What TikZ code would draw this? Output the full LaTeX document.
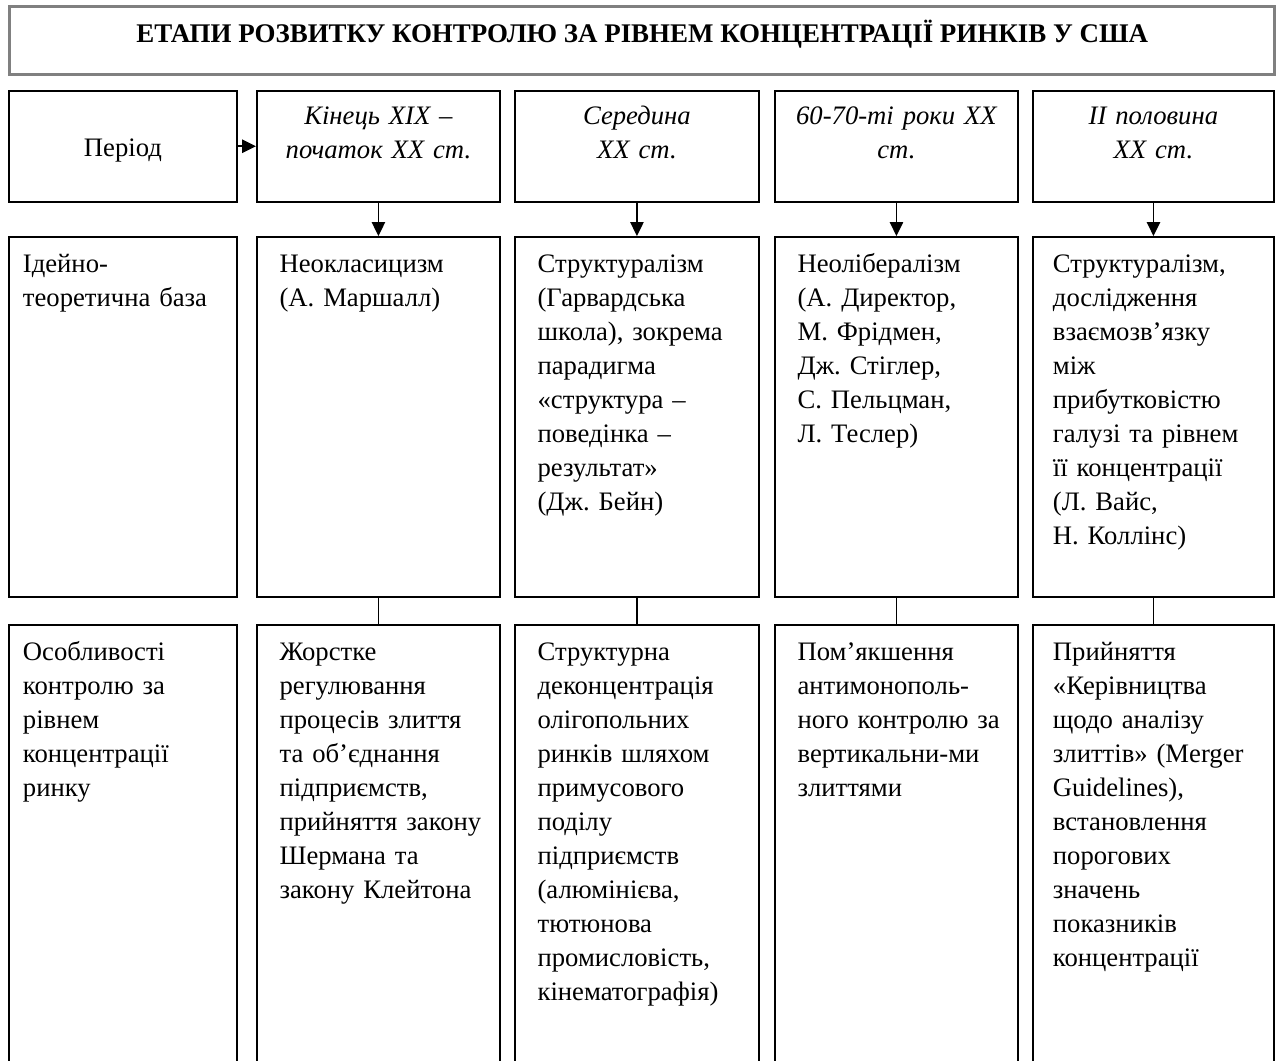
\documentclass[tikz,border=0pt]{standalone}
\usepackage{fontspec}
\setmainfont{Liberation Serif}[BoldFont={Liberation Serif Bold},
  ItalicFont={Liberation Serif Italic},BoldItalicFont={Liberation Serif Bold Italic}]
\frenchspacing
\usetikzlibrary{arrows.meta,positioning,calc}
\tikzset{
  cell/.style={draw,line width=1.4pt,inner sep=0pt,anchor=north west},
  headbox/.style={draw=black!50,line width=2.2pt,inner sep=0pt,anchor=north west,
                  minimum width=949pt,minimum height=51pt},
  head/.style={font=\fontsize{20.2}{25.5}\selectfont\bfseries,inner sep=0pt},
  txt/.style={inner sep=0pt,align=left,text width=175pt,
              font=\fontsize{20}{25.5}\selectfont},
  era/.style={txt,align=center,font=\fontsize{20}{25.5}\selectfont\itshape},
  flow/.style={-{Triangle[length=10.5pt,width=10pt]},line width=1.4pt},
  link/.style={line width=1.4pt},
}

\begin{document}
\begin{tikzpicture}[x=0.75pt,y=-0.75pt]
  \clip (0,0) rectangle (1277,1060);
  % title
  \node[headbox] (title) at (8,5) {};
  \node[head] (titletext) at ($(title.center)+(0,-6)$)
    {ЕТАПИ РОЗВИТКУ КОНТРОЛЮ ЗА РІВНЕМ КОНЦЕНТРАЦІЇ РИНКІВ У США};
  % three rows of cells
  \foreach \c/\x/\w in {0/8/228,1/256/243,2/514/244,3/774/243,4/1032/241}{
    \node[cell,minimum width=\w*0.75pt,minimum height=83pt] (per\c) at (\x,90) {};
    \node[cell,minimum width=\w*0.75pt,minimum height=270pt] (base\c) at (\x,236) {};
    \node[cell,minimum width=\w*0.75pt,minimum height=345pt] (feat\c) at (\x,624) {};
  }
  % connectors
  \draw[flow] (per0.east) -- (per1.west);
  \foreach \c in {1,...,4}{
    \draw[flow] (per\c.south) -- (base\c.north);
    \draw[link] (base\c.south) -- (feat\c.north);
  }
  % periods
  \node[font=\fontsize{20}{25.5}\selectfont,inner sep=0pt] (per0text) at ($(per0.center)+(0,4)$) {Період};
  \node[era,below=26pt of per1.north,anchor=base] (era1) {Кінець XIX –\\початок XX ст.};
  \node[era,below=26pt of per2.north,anchor=base] (era2) {Середина\\XX ст.};
  \node[era,below=26pt of per3.north,anchor=base] (era3) {60-70-ті роки XX\\ст.};
  \node[era,below=26pt of per4.north,anchor=base] (era4) {II половина\\XX ст.};
  % theoretical base
  \node[txt,below right=27pt and 11pt of base0.north west,anchor=base west] (idea0)
    {Ідейно-\\теоретична база};
  \node[txt,below right=27pt and 17.5pt of base1.north west,anchor=base west] (idea1)
    {Неокласицизм\\(А. Маршалл)};
  \node[txt,below right=27pt and 17.5pt of base2.north west,anchor=base west] (idea2)
    {Структуралізм\\(Гарвардська\\школа), зокрема\\парадигма\\«структура –\\поведінка –\\результат»\\(Дж. Бейн)};
  \node[txt,below right=27pt and 17.5pt of base3.north west,anchor=base west] (idea3)
    {Неолібералізм\\(А. Директор,\\М. Фрідмен,\\Дж. Стіглер,\\С. Пельцман,\\Л. Теслер)};
  \node[txt,below right=27pt and 15.5pt of base4.north west,anchor=base west] (idea4)
    {Структуралізм,\\дослідження\\взаємозв’язку\\між\\прибутковістю\\галузі та рівнем\\її концентрації\\(Л. Вайс,\\Н. Коллінс)};
  % control features
  \node[txt,below right=27pt and 11pt of feat0.north west,anchor=base west] (ctrl0)
    {Особливості\\контролю за\\рівнем\\концентрації\\ринку};
  \node[txt,below right=27pt and 17.5pt of feat1.north west,anchor=base west] (ctrl1)
    {Жорстке\\регулювання\\процесів злиття\\та об’єднання\\підприємств,\\прийняття закону\\Шермана та\\закону Клейтона};
  \node[txt,below right=27pt and 17.5pt of feat2.north west,anchor=base west] (ctrl2)
    {Структурна\\деконцентрація\\олігопольних\\ринків шляхом\\примусового\\поділу\\підприємств\\(алюмінієва,\\тютюнова\\промисловість,\\кінематографія)};
  \node[txt,below right=27pt and 17.5pt of feat3.north west,anchor=base west] (ctrl3)
    {Пом’якшення\\антимонополь-\\ного контролю за\\вертикальни-ми\\злиттями};
  \node[txt,below right=27pt and 15.5pt of feat4.north west,anchor=base west] (ctrl4)
    {Прийняття\\«Керівництва\\щодо аналізу\\злиттів» (Merger\\Guidelines),\\встановлення\\порогових\\значень\\показників\\концентрації};
\end{tikzpicture}
\end{document}
